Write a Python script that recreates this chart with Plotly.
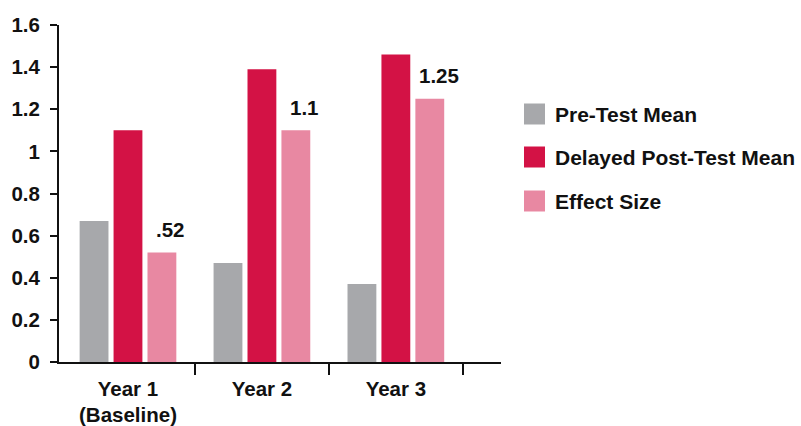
import plotly.graph_objects as go

# Data
categories = ["Year 1<br>(Baseline)", "Year 2", "Year 3"]
series_names = ["Pre-Test Mean", "Delayed Post-Test Mean", "Effect Size"]
pre_test = [0.67, 0.47, 0.37]
post_test = [1.10, 1.39, 1.46]
effect_size = [0.52, 1.10, 1.25]
effect_labels = [".52", "1.1", "1.25"]
y_ticks = [0, 0.2, 0.4, 0.6, 0.8, 1, 1.2, 1.4, 1.6]
y_tick_text = ["0", "0.2", "0.4", "0.6", "0.8", "1", "1.2", "1.4", "1.6"]

colors = ["#a7a8ab", "#d31245", "#e888a2"]
FONT = "Liberation Sans, Arial, sans-serif"
INK = "#111111"

x_idx = list(range(len(categories)))
boundaries = [i + 0.5 for i in x_idx]

fig = go.Figure()
for name, vals, col in zip(series_names, [pre_test, post_test, effect_size], colors):
    fig.add_trace(go.Bar(x=x_idx, y=vals, name=name, marker_color=col,
                         marker_line_width=0, showlegend=False))

# value labels above the effect-size bars
for xi, v, t in zip(x_idx, effect_size, effect_labels):
    fig.add_annotation(x=xi, y=v, xref="x", yref="y", text=t, showarrow=False,
                       xshift=43, yshift=23, yanchor="middle",
                       font=dict(family=FONT, size=20.5, color=INK, weight="bold"))

# legend drawn as swatches + labels to the right of the plot
L, R, T, B = 59, 300, 25, 64
W, H = 801 - L - R, 426 - T - B
def px_x(p):
    return (p - L) / W
def px_y(p):
    return (426 - B - p) / H

legend_centers = [114, 157, 201]
for name, col, cy in zip(series_names, colors, legend_centers):
    fig.add_shape(type="rect", xref="paper", yref="paper",
                  x0=px_x(524), x1=px_x(545), y0=px_y(cy + 10.5), y1=px_y(cy - 10.5),
                  fillcolor=col, line_width=0)
    fig.add_annotation(xref="paper", yref="paper", x=px_x(553), y=px_y(cy),
                       text=name, showarrow=False, xanchor="left", yanchor="middle",
                       font=dict(family=FONT, size=21, color=INK, weight="bold"))

fig.update_layout(
    width=801, height=426,
    margin=dict(l=L, r=R, t=T, b=B),
    paper_bgcolor="white", plot_bgcolor="white",
    barmode="group", bargap=0.24, bargroupgap=0.15,
    showlegend=False,
    xaxis=dict(range=[-0.515, 2.785], tickvals=x_idx, ticktext=categories,
               showline=True, linecolor=INK, linewidth=2, ticks="",
               ticklabelstandoff=7, automargin=False,
               minor=dict(tickmode="array", tickvals=boundaries, ticks="outside",
                          ticklen=11, tickwidth=2, tickcolor=INK, showgrid=False),
               showgrid=False, zeroline=False,
               tickfont=dict(family=FONT, size=20.5, color=INK, weight="bold")),
    yaxis=dict(range=[0, 1.6], tickvals=y_ticks, ticktext=y_tick_text,
               showline=True, linecolor=INK, linewidth=2,
               ticks="outside", ticklen=7, tickwidth=2, tickcolor=INK,
               showgrid=False, zeroline=False, ticklabelstandoff=6, automargin=False,
               tickfont=dict(family=FONT, size=20.5, color=INK, weight="bold")),
)

fig.write_html("out.html")
